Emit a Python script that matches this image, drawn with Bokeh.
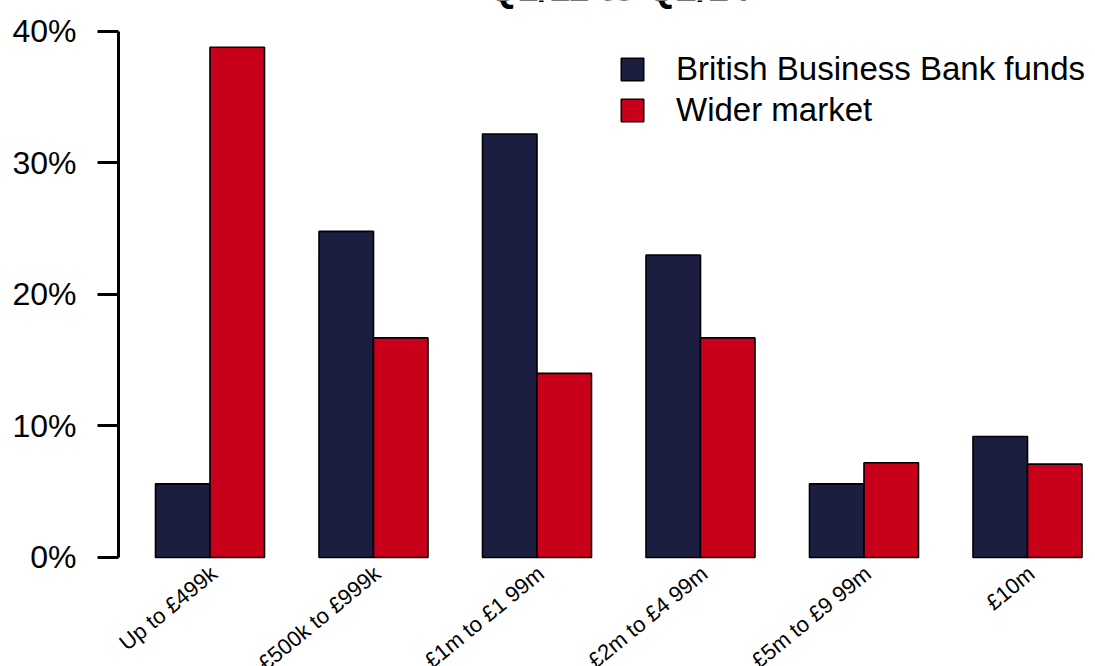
import math
from bokeh.plotting import figure
from bokeh.models import Range1d, FixedTicker, Legend, LegendItem, Label, LabelSet, ColumnDataSource
from bokeh.core.properties import value
from bokeh.embed import file_html
from bokeh.resources import INLINE

title_text = "Q1/11 to Q2/14"
categories = ["Up to £499k", "£500k to £999k", "£1m to £1 99m", "£2m to £4 99m", "£5m to £9 99m", "£10m"]
bbb_funds = [5.6, 24.8, 32.2, 23.0, 5.6, 9.2]
wider_market = [38.8, 16.7, 14.0, 16.7, 7.2, 7.1]
y_ticks = [0, 10, 20, 30, 40]
y_tick_labels = ["0%", "10%", "20%", "30%", "40%"]
series_names = ["British Business Bank funds", "Wider market"]
colors = ["#1b1e40", "#c8001a"]

FONT = "Liberation Sans"

# R barplot style positions: space 1 then two bars of width 1 per group
bbb_x = [3 * i + 1.5 for i in range(len(categories))]
wider_x = [3 * i + 2.5 for i in range(len(categories))]
centers = [3 * i + 2.0 for i in range(len(categories))]

p = figure(width=1095, height=666, output_backend="svg", toolbar_location=None,
           x_range=Range1d(0.321, 18.248), y_range=Range1d(-8.289, 42.357),
           min_border_left=118, min_border_right=0, min_border_top=0, min_border_bottom=0)
p.outline_line_color = None
p.grid.grid_line_color = None
p.background_fill_color = "white"
p.border_fill_color = "white"
p.xaxis.visible = False

src1 = ColumnDataSource(dict(x=bbb_x, top=bbb_funds))
src2 = ColumnDataSource(dict(x=wider_x, top=wider_market))
r1 = p.vbar(x="x", top="top", bottom=0, width=1.0, source=src1,
            fill_color=colors[0], line_color="black", line_width=1.6)
r2 = p.vbar(x="x", top="top", bottom=0, width=1.0, source=src2,
            fill_color=colors[1], line_color="black", line_width=1.6)

# y axis
ya = p.yaxis[0]
ya.ticker = FixedTicker(ticks=y_ticks)
ya.bounds = (y_ticks[0], y_ticks[-1])
ya.major_label_overrides = {t: l for t, l in zip(y_ticks, y_tick_labels)}
ya.axis_line_width = 3
ya.major_tick_line_width = 3
ya.major_tick_out = 21
ya.major_tick_in = 0
ya.minor_tick_line_color = None
ya.major_label_standoff = 21
ya.major_label_text_font = FONT
ya.major_label_text_font_size = "32px"
ya.major_label_text_color = "black"

# category labels under the groups
lab_src = ColumnDataSource(dict(x=centers, y=[0] * len(centers), text=categories))
xlabels = LabelSet(x="x", y="y", text="text", source=lab_src,
                   x_offset=4, y_offset=-13, angle=0.687,
                   text_align="right", text_baseline="middle",
                   text_font=value(FONT), text_font_size=value("22px"),
                   text_color="black")
p.add_layout(xlabels)

legend = Legend(items=[LegendItem(label=series_names[0], renderers=[r1]),
                       LegendItem(label=series_names[1], renderers=[r2])],
                location=(500, 537), orientation="vertical",
                glyph_width=28, glyph_height=28, label_height=28,
                spacing=3, padding=0, margin=0, label_standoff=30,
                label_text_font=FONT, label_text_font_size="33px",
                label_text_color="black",
                background_fill_alpha=0, border_line_color=None)
p.add_layout(legend)

title = Label(x=9.5, y=43.3, text=title_text, text_align="center",
              text_baseline="alphabetic", text_font=FONT, text_font_style="bold",
              text_font_size="38px", text_color="black")
p.add_layout(title)

open("out.html", "w").write(file_html(p, INLINE))
